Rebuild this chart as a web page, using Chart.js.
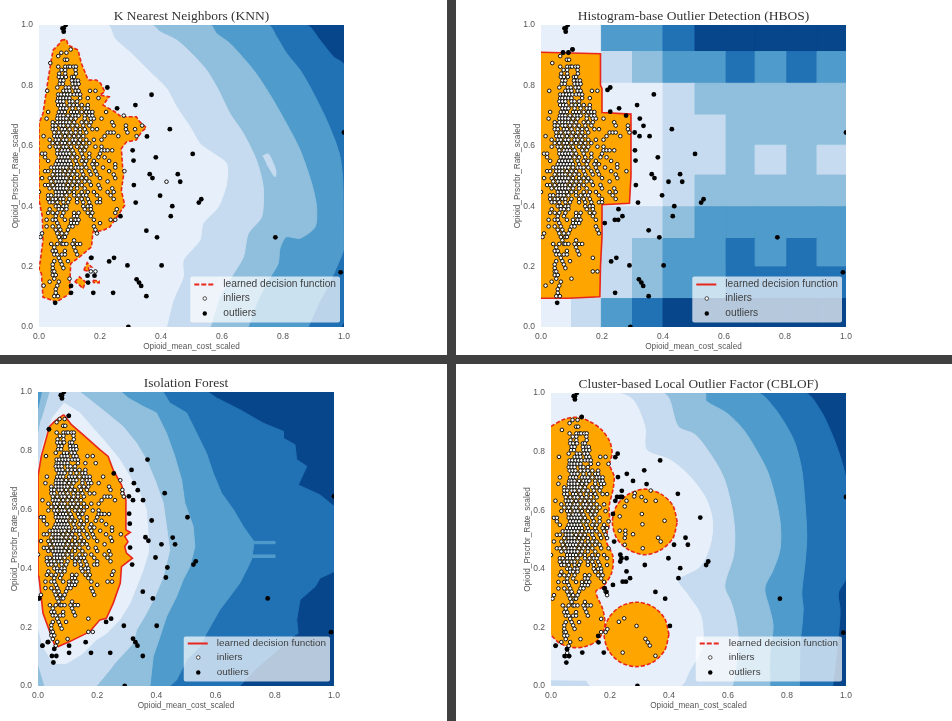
<!DOCTYPE html>
<html>
<head>
<meta charset="utf-8">
<title>Outlier detection</title>
<script src="https://cdn.jsdelivr.net/npm/chart.js@4"></script>
<style>
  html,body{margin:0;padding:0;background:#fff;overflow:hidden}
  body{position:relative;width:952px;height:721px}
  canvas{position:absolute;filter:blur(.5px)}
  .bar{position:absolute;background:#404040}
</style>
</head>
<body>
<div class="bar" style="left:0;top:355px;width:952px;height:9px"></div>
<div class="bar" style="left:447px;top:0;width:9px;height:721px"></div>
<canvas id="c0"></canvas>
<canvas id="c1"></canvas>
<canvas id="c2"></canvas>
<canvas id="c3"></canvas>
<script>
// all values below are in axis units
const xTitle = 'Opioid_mean_cost_scaled'
const yTitle = 'Opioid_Prscrbr_Rate_scaled'
const legendLabels = ['learned decision function', 'inliers', 'outliers']
const bandColors = ['#08468b', '#2171b5', '#4f9bcb', '#8fbfdd', '#c6dbef', '#e7f0fa']
const wholeSquare = [[0,0],[0,1],[1,1],[1,0]]

// inliers, one row per y value
const inlierRows = [
  [.919,[.104]],[.908,[.073,.09]],[.897,[.063]],[.885,[.085,.092]],[.874,[.037]],
  [.862,[.063,.086,.096,.102,.113,.121]],[.851,[.074,.086,.12]],[.839,[.066,.086,.121]],
  [.828,[.065,.075,.088,.108,.115]],[.816,[.07,.08,.108,.12,.128]],[.805,[.068,.078,.11,.12,.13]],
  [.793,[.06,.088,.098,.113,.124]],[.782,[.027,.08,.09,.1,.12,.13,.167,.185]],
  [.77,[.063,.072,.083,.093,.103,.115,.125,.135]],[.758,[.063,.07,.08,.09,.1,.135,.16,.195]],
  [.747,[.06,.07,.08,.1,.11,.125]],[.735,[.063,.073,.083,.1,.113,.125,.14,.16]],
  [.724,[.07,.08,.09,.11,.13,.15,.16]],[.712,[.03,.065,.075,.085,.105,.115,.125,.14,.155,.165,.175,.22]],
  [.7,[.062,.07,.08,.095,.11,.12,.13,.15,.165,.175,.278]],[.69,[.025,.06,.07,.08,.09,.105,.12,.15,.17,.18,.205]],
  [.678,[.045,.06,.07,.08,.09,.1,.115,.14,.155,.17,.24]],[.667,[.045,.055,.07,.08,.095,.11,.125,.145,.165,.245,.285,.338]],
  [.655,[.045,.055,.075,.085,.1,.12,.135,.15,.175,.19,.285,.315]],[.644,[.05,.065,.08,.09,.105,.12,.135,.155,.225,.235,.245,.29]],
  [.632,[.015,.05,.06,.07,.085,.1,.115,.13,.145,.215,.26,.32]],[.62,[.035,.055,.065,.08,.09,.11,.12,.135,.155,.18,.205]],
  [.609,[.045,.06,.075,.085,.1,.115,.13,.145,.165]],[.597,[.035,.055,.065,.08,.09,.105,.125,.14,.155,.185,.205]],
  [.585,[.06,.075,.085,.095,.11,.135,.15,.205,.215,.225,.24]],[.574,[.01,.02,.06,.07,.08,.09,.1,.115,.14,.165,.2]],
  [.562,[.02,.065,.075,.085,.095,.11,.125,.145,.165,.195,.215]],[.55,[.03,.06,.07,.08,.09,.1,.12,.14,.155,.18,.23]],
  [.539,[.055,.065,.075,.085,.095,.105,.125,.15,.175,.19,.25]],[.528,[.04,.05,.06,.07,.08,.09,.105,.12,.13,.14,.155,.18,.21,.25]],
  [.516,[.02,.03,.05,.06,.07,.085,.1,.115,.14,.165,.185,.23,.28]],[.505,[.045,.06,.07,.08,.095,.11,.125,.145,.17,.19,.245]],
  [.493,[.01,.035,.05,.06,.07,.08,.09,.105,.125,.14,.155,.2,.25]],[.482,[.04,.055,.065,.075,.085,.1,.115,.13,.15,.165,.225]],
  [.47,[.02,.03,.045,.06,.07,.08,.095,.11,.125,.14,.17,.195]],[.459,[.035,.05,.06,.07,.08,.09,.105,.125,.15,.2,.24]],
  [.447,[0,.055,.065,.075,.085,.1,.115,.14,.16,.18,.225,.245]],[.436,[.03,.04,.055,.065,.075,.09,.115,.13,.145,.155,.19,.235]],
  [.424,[.03,.045,.055,.07,.08,.1,.125,.14,.16,.2,.245]],[.413,[.035,.045,.06,.08,.095,.125,.145,.165,.19,.2]],
  [.4,[.055,.065,.08,.09,.145,.16,.17]],[.39,[.035,.065,.075,.09,.15,.17,.255]],
  [.378,[.03,.045,.06,.08,.115,.13,.16,.175,.25]],[.367,[.055,.075,.115,.125,.17]],
  [.355,[.025,.045,.055,.085,.105,.12,.13,.18,.235,.25]],[.344,[.06,.105,.115,.125,.2]],
  [.333,[.025,.045,.065,.1,.11,.18]],[.322,[.055,.07,.095,.185]],[.31,[.01,.06,.075,.09,.19]],
  [.298,[.005,.065,.08,.085]],[.287,[.07,.115]],[.275,[.04,.06,.075,.08,.09,.11,.125,.135]],
  [.264,[.05,.115]],[.252,[.045,.055,.085,.12]],[.24,[.05,.06,.075,.085,.125]],[.229,[.065,.17]],
  [.218,[.05,.07,.095]],[.207,[.045,.075]],[.195,[.045,.08]],[.184,[.045,.05,.17,.185]],
  [.172,[.045,.055]],[.16,[.05,.1]],[.15,[.035,.065]],[.137,[.015,.06]],[.125,[.055]],
  [.113,[.055]],[.102,[.05,.062]]
]
const knnExtraInliers = [[.418,.481]]
const cblofExtraInliers = [[.338,.667],[.284,.658],[.282,.647],[.307,.645],[.321,.632],[.355,.632],[.256,.632],[.25,.613],
  [.233,.579],[.308,.587],[.31,.552],[.385,.564],[.233,.53],[.252,.53],[.252,.518],[.25,.505],[.278,.518],[.363,.506],
  [.372,.493],[.311,.47],[.25,.482],[.29,.205],[.248,.231],[.23,.219],[.32,.161],[.328,.149],[.335,.138],[.243,.114],
  [.354,.103],[.191,.194]]

// outliers of each method
const topOutliers = [[.077,.989],[.081,.989],[.081,.978],[.0875,1]]
const knnOutliers = [[.224,.793],[.369,.769],[.316,.735],[.256,.724],[.354,.631],[.429,.655],[.307,.585],[.31,.551],[.383,.562],
  [.504,.573],[.363,.506],[.372,.493],[.455,.506],[.463,.481],[.311,.47],[.397,.435],[.317,.412],[.437,.4],[.524,.412],
  [.532,.423],[.432,.367],[.267,.367],[.352,.319],[.387,.297],[.775,.297],[.172,.229],[.246,.229],[.23,.217],[.29,.204],
  [.402,.204],[.159,.17],[.182,.17],[.161,.147],[.32,.158],[.328,.147],[.335,.136],[.105,.136],[.105,.113],[.178,.113],
  [.243,.113],[.352,.102],[.053,.08],[.989,.181],[1,.644],[.293,0]]
const hbosOutliers = [[.103,.919],[.072,.909],[.09,.909],[.218,.785],[.227,.793],[.37,.77],[.315,.735],[.256,.724],[.227,.713],
  [.279,.7],[.324,.69],[.336,.666],[.307,.644],[.323,.632],[.356,.632],[.429,.655],[.308,.585],[.31,.551],[.383,.562],
  [.505,.573],[.363,.506],[.372,.493],[.456,.506],[.463,.481],[.418,.481],[.311,.47],[.397,.436],[.318,.412],[.437,.4],
  [.525,.412],[.533,.423],[.432,.367],[.254,.39],[.242,.355],[.253,.355],[.267,.367],[.209,.344],[.353,.32],[.388,.297],
  [.775,.297],[.23,.217],[.247,.229],[.29,.204],[.402,.204],[.321,.158],[.329,.147],[.335,.136],[.243,.113],[.353,.102],
  [.053,.08],[.99,.181],[1,.644],[.293,0]]
const forestOutliers = [[.104,.919],[.037,.873],[.256,.723],[.37,.77],[.316,.735],[.324,.69],[.337,.666],[.307,.645],[.321,.632],
  [.355,.632],[.428,.656],[.308,.586],[.31,.552],[.384,.563],[.505,.574],[.363,.506],[.373,.494],[.455,.505],[.463,.482],
  [.417,.482],[.311,.471],[.397,.437],[.318,.413],[.437,.403],[.525,.413],[.533,.424],[.432,.369],[.354,.321],[.388,.298],
  [.776,.298],[.003,.298],[.29,.205],[.401,.205],[.247,.229],[.23,.218],[.321,.161],[.329,.149],[.336,.137],[.161,.149],
  [.033,.149],[.015,.137],[.055,.126],[.105,.137],[.105,.113],[.179,.113],[.244,.113],[.354,.102],[.047,.102],[.062,.102],
  [.052,.08],[.99,.183],[1,.645],[.293,0]]
const cblofOutliers = [[.104,.918],[.218,.781],[.226,.793],[.37,.77],[.316,.736],[.257,.724],[.227,.713],[.278,.7],[.324,.689],
  [.24,.666],[.43,.656],[.224,.645],[.235,.645],[.241,.645],[.218,.632],[.21,.587],[.506,.575],[.456,.506],[.464,.482],
  [.417,.482],[.214,.493],[.235,.448],[.239,.436],[.256,.436],[.235,.425],[.398,.436],[.318,.413],[.438,.402],[.526,.413],
  [.533,.425],[.432,.368],[.256,.391],[.243,.356],[.254,.356],[.268,.368],[.21,.345],[.182,.334],[.188,.321],[.354,.321],
  [.387,.298],[.776,.298],[.403,.205],[.16,.171],[.161,.149],[.016,.138],[.054,.126],[.046,.102],[.061,.102],[.052,.08],
  [.106,.114],[.179,.114],[.991,.182],[1,.645],[.293,0]]

// KNN bands, band index then outline
const knnBands = [
  [0, wholeSquare],
  [1, [[0,0],[0,1],[.877,1],[.921,.95],[.965,.895],[1,.867],[1,.02],[.99,0]]],
  [2, [[0,0],[0,1],[.752,1],[.779,.961],[.812,.906],[.856,.851],[.894,.785],[.938,.696],[.97,.619],[.987,.564],[.996,.486],[.998,.309],[.998,.254],[.981,.21],[.949,.138],[.916,.077],[.883,0]]],
  [3, [[0,0],[0,1],[.562,1],[.582,.972],[.626,.939],[.681,.878],[.719,.829],[.768,.751],[.817,.663],[.856,.586],[.894,.475],[.91,.398],[.905,.331],[.856,.294],[.81,.298],[.79,.26],[.784,.21],[.746,.144],[.713,.077],[.686,0]]],
  [4, [[0,0],[0,1],[.372,1],[.396,.978],[.451,.95],[.5,.906],[.549,.851],[.588,.785],[.626,.707],[.67,.641],[.713,.552],[.735,.464],[.73,.365],[.686,.309],[.67,.232],[.631,.166],[.593,.099],[.562,0]]],
  [4, [[.733,.566],[.752,.573],[.776,.52],[.774,.497],[.746,.541]]],
  [5, [[0,0],[0,1],[.226,1],[.248,.956],[.309,.9],[.363,.845],[.418,.79],[.451,.729],[.495,.663],[.527,.608],[.571,.575],[.615,.541],[.615,.475],[.588,.398],[.538,.343],[.527,.287],[.473,.221],[.473,.166],[.44,.088],[.418,0]]]
]
const knnBoundary = [
  [[.073,.95],[.09,.952],[.095,.934],[.128,.917],[.139,.873],[.161,.818],[.188,.818],[.202,.807],[.216,.779],[.199,.768],[.23,.762],[.21,.735],[.248,.713],[.27,.696],[.319,.696],[.33,.68],[.352,.66],[.336,.646],[.319,.619],[.287,.613],[.27,.591],[.274,.53],[.278,.508],[.27,.453],[.281,.403],[.256,.365],[.232,.331],[.21,.32],[.177,.315],[.172,.265],[.133,.232],[.104,.21],[.101,.144],[.101,.11],[.057,.083],[.013,.099],[.008,.177],[0,.188],[.013,.287],[.011,.365],[0,.42],[0,.674],[.013,.707],[.033,.84],[.046,.917],[.068,.939],[.073,.95]],
  [[.147,.188],[.158,.213],[.172,.199],[.161,.2],[.165,.185],[.147,.188]],
  [[.117,.149],[.133,.166],[.153,.149],[.144,.127],[.128,.144],[.117,.149]],
  [[.177,.155],[.197,.152],[.197,.146],[.179,.147],[.177,.155]]
]

// HBOS is a 10x10 histogram grid, top row first
const hbosColEdges = [0,.1,.198,.3,.4,.505,.607,.702,.806,.905,1]
const hbosRowEdges = [1,.912,.807,.702,.602,.503,.398,.293,.199,.094,0]
const hbosLevels = [
  [5,5,2,2,1,0,0,0,0,0],
  [5,5,4,3,2,2,1,2,1,2],
  [5,5,5,5,4,3,3,3,3,3],
  [5,5,5,5,4,4,3,3,3,3],
  [5,5,5,5,4,4,3,4,3,4],
  [5,5,5,5,4,3,3,3,3,3],
  [5,5,4,4,3,2,2,2,2,2],
  [5,5,4,3,2,2,1,2,1,2],
  [5,5,4,3,2,2,1,1,1,1],
  [5,4,2,1,0,0,0,0,0,0]
]
const hbosBoundary = [[[0,.91],[.195,.905],[.195,.8],[.2,.79],[.2,.71],[.295,.705],[.295,.5],[.29,.41],[.2,.405],[.2,.3],[.195,.2],[.193,.1],[.09,.095],[0,.095]]]

// Isolation Forest bands
const forestBands = [
  [0, wholeSquare],
  [1, [[0,0],[0,1],[.575,1],[.603,.98],[.682,.94],[.761,.894],[.829,.866],[.829,.843],[.868,.821],[.874,.77],[.908,.747],[.879,.684],[.953,.65],[1,.611],[1,.389],[.953,.367],[.936,.338],[.885,.293],[.874,.225],[.879,.179],[.863,.17],[.772,.09],[.727,.05],[.682,0]]],
  [2, [[0,0],[0,1],[.423,1],[.445,.963],[.502,.929],[.536,.86],[.569,.792],[.592,.724],[.62,.656],[.66,.6],[.693,.543],[.729,.492],[.8,.492],[.8,.484],[.729,.484],[.724,.446],[.8,.446],[.8,.437],[.724,.437],[.71,.406],[.682,.35],[.648,.304],[.614,.259],[.569,.179],[.547,.134],[.502,.089],[.468,.02],[.445,0]]],
  [3, [[0,0],[0,.93],[.015,1],[.282,1],[.304,.98],[.355,.951],[.4,.929],[.434,.86],[.462,.781],[.485,.701],[.496,.622],[.524,.543],[.53,.474],[.513,.406],[.49,.361],[.468,.304],[.434,.236],[.412,.168],[.389,.1],[.378,0]]],
  [4, [[.039,1],[.141,1],[.175,.974],[.231,.929],[.287,.883],[.333,.826],[.366,.77],[.395,.701],[.423,.622],[.434,.543],[.445,.463],[.423,.372],[.395,.304],[.366,.247],[.333,.191],[.321,.145],[.259,.077],[.242,.054],[.197,0],[.023,0],[0,.077],[0,.85],[.011,.906]]],
  [5, [[.087,.963],[.141,.929],[.186,.877],[.231,.826],[.276,.77],[.31,.713],[.344,.656],[.366,.599],[.372,.509],[.372,.452],[.355,.395],[.333,.338],[.31,.281],[.276,.225],[.231,.179],[.197,.157],[.152,.111],[.096,.077],[.051,.077],[.017,.134],[0,.202],[0,.735],[.017,.826],[.051,.917]]]
]
const forestBoundary = [[[.087,.923],[.113,.889],[.152,.855],[.209,.804],[.237,.781],[.254,.735],[.282,.684],[.297,.633],[.297,.531],[.312,.523],[.293,.509],[.304,.491],[.293,.474],[.299,.452],[.319,.435],[.282,.406],[.278,.35],[.254,.281],[.231,.23],[.209,.225],[.175,.185],[.141,.168],[.107,.151],[.068,.134],[.056,.14],[.017,.247],[.003,.372],[0,.486],[0,.713],[.011,.781],[.039,.883],[.056,.9],[.087,.923]]]

// CBLOF bands and cluster circles
const cblofBands = [
  [0, wholeSquare],
  [1, [[0,0],[0,1],[.861,1],[.912,.943],[.951,.863],[.98,.784],[1,.7],[1,.37],[.974,.317],[.98,.26],[.974,.17],[.955,0]]],
  [2, [[0,0],[0,1],[.702,1],[.753,.954],[.799,.886],[.827,.829],[.85,.738],[.861,.624],[.867,.51],[.861,.419],[.85,.317],[.855,.26],[.844,.134],[.842,0]]],
  [3, [[0,0],[0,1],[.521,1],[.527,.972],[.595,.932],[.652,.875],[.702,.795],[.736,.727],[.765,.624],[.778,.544],[.776,.465],[.753,.396],[.725,.334],[.742,.26],[.753,.203],[.742,.112],[.742,0]]],
  [4, [[0,0],[0,1],[.382,1],[.431,.886],[.488,.858],[.538,.795],[.584,.715],[.612,.613],[.623,.522],[.618,.442],[.589,.342],[.612,.282],[.629,.214],[.635,.146],[.629,.077],[.615,0]]],
  [5, [[0,.02],[0,1],[.23,1],[.278,.977],[.318,.886],[.324,.806],[.403,.772],[.471,.715],[.527,.636],[.548,.556],[.538,.476],[.505,.408],[.431,.362],[.459,.317],[.505,.248],[.516,.18],[.51,.123],[.471,.055],[.437,0],[.137,0],[.12,.018]]]
]
const cblofBoundary = [
  [[0,.886],[.041,.909],[.086,.917],[.131,.903],[.171,.875],[.199,.835],[.207,.795],[.199,.755],[.214,.715],[.21,.67],[.197,.613],[.199,.556],[.186,.499],[.21,.442],[.205,.385],[.176,.339],[.152,.322],[.176,.26],[.182,.203],[.159,.157],[.114,.134],[.069,.132],[.029,.146],[0,.174]],
  [[.428,.56],[.413,.616],[.373,.655],[.318,.672],[.263,.655],[.223,.616],[.208,.56],[.223,.504],[.263,.465],[.318,.448],[.373,.465],[.413,.504],[.428,.56]],
  [[.4,.176],[.385,.231],[.345,.271],[.29,.286],[.235,.271],[.195,.231],[.18,.176],[.195,.121],[.235,.081],[.29,.066],[.345,.081],[.385,.121],[.4,.176]]
]

function toPoints(list){
  return list.map(p=>({x:p[0],y:p[1]}))
}

function bandDataset(level,outline,tension){
  // curved outlines would round the plot corners, so push those corners out of the axes
  let pts=tension?outline.map(p=>p[0]==0&&(p[1]==0||p[1]==1)?[-.1,p[1]*1.2-.1]:p):outline
  return {
    data:toPoints(pts),showLine:true,fill:'shape',
    backgroundColor:bandColors[level],borderColor:bandColors[level],
    borderWidth:1,pointRadius:0,tension:tension||0
  }
}

function hbosCells(){
  let cells=[]
  hbosLevels.forEach((row,r)=>{
    row.forEach((level,c)=>{
      let x0=hbosColEdges[c],x1=hbosColEdges[c+1],y0=hbosRowEdges[r],y1=hbosRowEdges[r+1]
      cells.push([level,[[x0,y0],[x1,y0],[x1,y1],[x0,y1],[x0,y0]]])
    })
  })
  return cells
}

function inlierPoints(keep,extra){
  let pts=[]
  inlierRows.forEach(row=>{
    row[1].forEach(x=>{
      if(keep(x,row[0])) pts.push([x,row[0]])
    })
  })
  return pts.concat(extra)
}

// matplotlib style legend inside the axes
const cornerLegend={
  id:'cornerLegend',
  afterDatasetsDraw(chart,args,opts){
    let ctx=chart.ctx,area=chart.chartArea
    ctx.save()
    ctx.font=opts.size+'px "Liberation Sans"'
    let w=ctx.measureText(legendLabels[0]).width+37
    let h=opts.height
    let left=area.right-4-w,bottom=area.bottom-4.5,top=bottom-h
    ctx.fillStyle='rgba(255,255,255,.7)'
    ctx.beginPath()
    ctx.roundRect(left,top,w,h,2)
    ctx.fill()
    let rows=[bottom-38,bottom-24,bottom-9]
    ctx.strokeStyle='#e8261c'
    ctx.lineWidth=2
    ctx.setLineDash(opts.dashed?[5,2]:[])
    ctx.beginPath()
    ctx.moveTo(left+4,rows[0])
    ctx.lineTo(left+24,rows[0])
    ctx.stroke()
    ctx.setLineDash([])
    ctx.fillStyle='#fff'
    ctx.strokeStyle='#222'
    ctx.lineWidth=.8
    ctx.beginPath()
    ctx.arc(left+14.5,rows[1],1.8,0,Math.PI*2)
    ctx.fill()
    ctx.stroke()
    ctx.fillStyle='#000'
    ctx.beginPath()
    ctx.arc(left+14.5,rows[2],2.2,0,Math.PI*2)
    ctx.fill()
    ctx.fillStyle='#3f3f3f'
    ctx.textBaseline='middle'
    legendLabels.forEach((t,i)=>ctx.fillText(t,left+33,rows[i]))
    ctx.restore()
  }
}

function drawPanel(id,p){
  let bands=p.bands.map(b=>bandDataset(b[0],b[1],p.bandTension))
  let lines=p.boundary.map(o=>({
    data:toPoints(o),showLine:true,fill:'shape',backgroundColor:'#ffa500',
    borderColor:'#e8261c',borderWidth:1.6,borderDash:p.dashed?[4,2]:[],
    pointRadius:0,tension:p.lineTension||0
  }))
  let marks=[
    {data:toPoints(p.inliers),showLine:false,pointRadius:1.8,pointBackgroundColor:'#fff',pointBorderColor:'#111',pointBorderWidth:1},
    {data:toPoints(topOutliers.concat(p.outliers)),showLine:false,pointRadius:2.4,pointBackgroundColor:'#000',pointBorderColor:'#000',pointBorderWidth:0}
  ]
  let datasets=bands.concat(lines,marks)
  datasets.forEach((d,i)=>{d.order=datasets.length-i})

  let canvas=document.getElementById(id)
  canvas.style.left=(p.left-39)+'px'
  canvas.style.top=(p.top-25)+'px'
  canvas.width=p.right-p.left+51
  canvas.height=p.bottom-p.top+51

  let tickFont={family:'"Liberation Sans"',size:8.5}
  let titleFont={family:'"Liberation Sans"',size:8.2}
  let tickText=v=>v.toFixed(1)
  new Chart(canvas.getContext('2d'),{
    type:'scatter',
    data:{datasets:datasets},
    plugins:[cornerLegend],
    options:{
      responsive:false,animation:false,events:[],
      layout:{padding:{left:0,top:0,right:12,bottom:0}},
      plugins:{
        legend:{display:false},tooltip:{enabled:false},
        title:{display:true,text:p.title,fullSize:false,color:'#333',
          font:{family:'"Liberation Serif"',size:p.titleSize,weight:'normal',lineHeight:'17px'},
          padding:{top:8,bottom:0}},
        cornerLegend:{dashed:p.dashed,size:p.legendSize,height:p.legendHeight}
      },
      scales:{
        x:{type:'linear',min:0,max:1,
          grid:{display:false,drawTicks:false},border:{display:false},
          ticks:{stepSize:.2,maxRotation:0,autoSkip:false,color:'#555',font:tickFont,padding:5,callback:tickText},
          title:{display:true,text:xTitle,color:'#555',font:titleFont,padding:{top:0,bottom:1}},
          afterFit(s){s.height=26;s.paddingLeft=0;s.paddingRight=0}
        },
        y:{type:'linear',min:0,max:1,
          grid:{display:false,drawTicks:false},border:{display:false},
          ticks:{stepSize:.2,autoSkip:false,color:'#555',font:tickFont,padding:6,callback:tickText},
          title:{display:true,text:yTitle,color:'#555',font:titleFont,padding:{top:11,bottom:0}},
          afterFit(s){s.width=39;s.paddingTop=0;s.paddingBottom=0}
        }
      }
    }
  })
}

drawPanel('c0',{title:'K Nearest Neighbors (KNN)',left:39,right:344,top:25,bottom:327,titleSize:13.5,legendSize:10.2,legendHeight:46,dashed:true,bandTension:.25,
  bands:knnBands,boundary:knnBoundary,outliers:knnOutliers,
  inliers:inlierPoints(()=>true,knnExtraInliers)})
drawPanel('c1',{title:'Histogram-base Outlier Detection (HBOS)',left:541,right:846,top:25,bottom:327,titleSize:13.5,legendSize:10.2,legendHeight:46,dashed:false,
  bands:hbosCells(),boundary:hbosBoundary,outliers:hbosOutliers,
  inliers:inlierPoints((x,y)=>x<.195||(x<.295&&y<.7&&y>.41),[])})
drawPanel('c2',{title:'Isolation Forest',left:38,right:334,top:392,bottom:686,titleSize:13.5,legendSize:9.9,legendHeight:45,dashed:false,
  bands:forestBands,boundary:forestBoundary,outliers:forestOutliers,
  inliers:inlierPoints((x,y)=>x<.3&&y>.13,[])})
drawPanel('c3',{title:'Cluster-based Local Outlier Factor (CBLOF)',left:551,right:846,top:393,bottom:686,titleSize:13.3,legendSize:9.9,legendHeight:45,dashed:true,bandTension:.3,lineTension:.3,
  bands:cblofBands,boundary:cblofBoundary,outliers:cblofOutliers,
  inliers:inlierPoints((x,y)=>x<.2,cblofExtraInliers)})
</script>
</body>
</html>
